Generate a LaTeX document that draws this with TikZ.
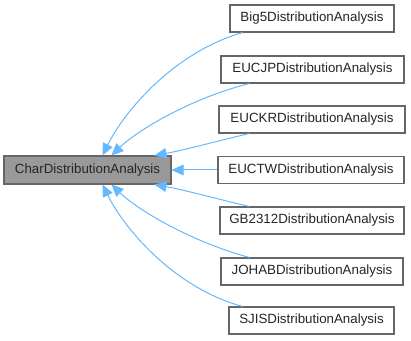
\documentclass[tikz,border=0pt]{standalone}
\usepackage{fontspec}
\setmainfont{Liberation Sans}
\usetikzlibrary{arrows.meta,calc}
\definecolor{edgeblue}{HTML}{63B8FF}
\definecolor{boxline}{HTML}{666666}
\definecolor{basefill}{HTML}{999999}
\begin{document}
\begin{tikzpicture}[x=0.75pt,y=-0.75pt,
  cls/.style={draw=boxline, fill=white, line width=0.8pt, inner sep=0pt,
    minimum height=20.25pt, font=\fontsize{10}{12}\selectfont, text=black!85},
  basecls/.style={cls, fill=basefill},
  inherit/.style={draw=edgeblue, line width=0.75pt,
    {Triangle[length=9pt,width=8pt,fill=edgeblue]}-}]
\useasboundingbox (0,0) rectangle (411,341);

% base class
\node[basecls, minimum width=125.25pt, minimum height=21pt] (base) at (87.5,170) {CharDistributionAnalysis};

% derived classes
\node[cls, minimum width=123pt]    (big5)  at (312,18.5)  {Big5DistributionAnalysis};
\node[cls, minimum width=137.25pt] (eucjp) at (312.5,69.5) {EUCJPDistributionAnalysis};
\node[cls, minimum width=139.5pt]  (euckr) at (312,119.5) {EUCKRDistributionAnalysis};
\node[cls, minimum width=139.5pt]  (euctw) at (311,170)   {EUCTWDistributionAnalysis};
\node[cls, minimum width=138pt]    (gb)    at (312,220.5) {GB2312DistributionAnalysis};
\node[cls, minimum width=136.5pt]  (johab) at (312,271.5) {JOHABDistributionAnalysis};
\node[cls, minimum width=123.75pt] (sjis)  at (311.5,320.5) {SJISDistributionAnalysis};

% inheritance edges
\draw[inherit] ($(base.north west)+(99,0)$) .. controls (125,110) and (175,52) .. ($(big5.south west)+(13,0)$);
\draw[inherit] ($(base.north west)+(108,0)$) .. controls (140,128) and (195,97) .. ($(eucjp.south west)+(29,0)$);
\draw[inherit] ($(base.north west)+(151,0)$) .. controls (185,150) and (225,139) .. ($(euckr.south west)+(31,0)$);
\draw[inherit] (base.east) -- (euctw.west);
\draw[inherit] ($(base.south west)+(151,0)$) .. controls (185,190) and (225,201) .. ($(gb.north west)+(30,0)$);
\draw[inherit] ($(base.south west)+(108,0)$) .. controls (140,212) and (195,243) .. ($(johab.north west)+(29,0)$);
\draw[inherit] ($(base.south west)+(99,0)$) .. controls (125,230) and (175,288) .. ($(sjis.north west)+(14,0)$);
\end{tikzpicture}
\end{document}
